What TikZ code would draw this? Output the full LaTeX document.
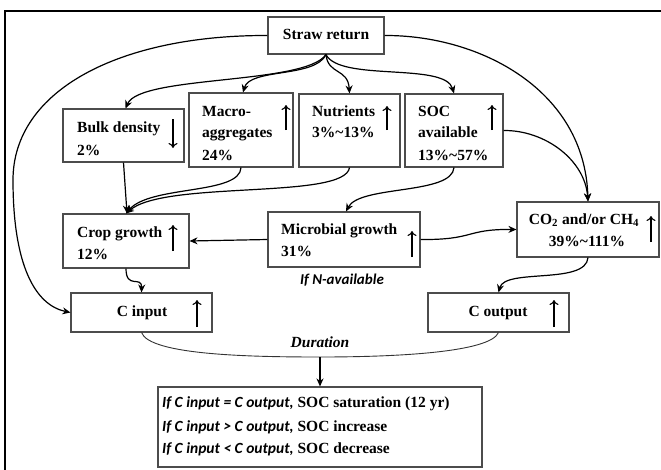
\documentclass[tikz,border=0pt]{standalone}
\usepackage{fontspec}
\setmainfont{Liberation Serif}
\newfontfamily\serfont{Liberation Serif}
\newfontfamily\calfont{Carlito}
\usetikzlibrary{arrows.meta,calc}
\begin{document}
\begin{tikzpicture}[x=1pt,y=-1pt,
  box/.style={draw=black!70, line width=1.1pt, rectangle, inner sep=0pt},
  conn/.style={line width=1.2pt, -{Stealth[length=8pt,width=7pt]}},
  uparr/.style={line width=1.1pt, -{To[length=5pt,width=9pt]}},
  txt/.style={anchor=base west, inner sep=0pt, font=\serfont\bfseries\fontsize{15.5}{18}\selectfont},
  ctxt/.style={anchor=base, inner sep=0pt, font=\serfont\bfseries\fontsize{15.5}{18}\selectfont},
  ital/.style={anchor=base, inner sep=0pt, font=\calfont\bfseries\itshape\fontsize{15}{18}\selectfont},
]
\useasboundingbox (0,0) rectangle (661,469);
\draw[line width=1.5pt] (5,11) rectangle (670,480);

% boxes
\node[box, minimum width=116pt, minimum height=37pt] (sr) at (326,35.5) {};
\node[box, minimum width=121pt, minimum height=53pt] (bd) at (123.5,135.5) {};
\node[box, minimum width=104pt, minimum height=74pt] (ma) at (241,130) {};
\node[box, minimum width=101pt, minimum height=73pt] (nu) at (349.5,130.5) {};
\node[box, minimum width=98pt, minimum height=73pt] (soc) at (454,130.5) {};
\node[box, minimum width=126pt, minimum height=54pt] (cg) at (126,241) {};
\node[box, minimum width=152pt, minimum height=55pt] (mg) at (344,239.5) {};
\node[box, minimum width=142pt, minimum height=55pt] (co) at (588,229.5) {};
\node[box, minimum width=141pt, minimum height=39pt] (ci) at (141.5,312.5) {};
\node[box, minimum width=141pt, minimum height=39pt] (cout) at (498.5,312.5) {};
\node[box, minimum width=324pt, minimum height=80pt] (res) at (320,427) {};

% texts
\node[ctxt] (tsr) at (326,39.5) {Straw return};
\node[txt] (tbd1) at (77,132) {Bulk density};
\node[txt] (tbd2) at (77,155) {2\%};
\node[txt] (tma1) at (202,116) {Macro-};
\node[txt] (tma2) at (202,137) {aggregates};
\node[txt] (tma3) at (202,160) {24\%};
\node[txt] (tnu1) at (312,116) {Nutrients};
\node[txt] (tnu2) at (312,137) {3\%\textasciitilde13\%};
\node[txt] (tsoc1) at (418,116) {SOC};
\node[txt] (tsoc2) at (418,137) {available};
\node[txt] (tsoc3) at (418,160) {13\%\textasciitilde57\%};
\node[txt] (tcg1) at (77,237) {Crop growth};
\node[txt] (tcg2) at (77,259) {12\%};
\node[txt] (tmg1) at (281,234) {Microbial growth};
\node[txt] (tmg2) at (281,256) {31\%};
\node[ctxt] (tco1) at (584,224) {CO\textsubscript{2} and/or CH\textsubscript{4}};
\node[ctxt] (tco2) at (587,246) {39\%\textasciitilde111\%};
\node[ctxt] (tci) at (142,316) {C input};
\node[ctxt] (tcout) at (498,316) {C output};
\node[ital] (tnav) at (342,284) {If N-available};
\node[anchor=base, inner sep=0pt, font=\serfont\bfseries\itshape\fontsize{15.5}{18}\selectfont] (tdur) at (320,347) {Duration};
\node[anchor=base west, inner sep=0pt, font=\fontsize{15.5}{18}\selectfont] (tr1) at (162,407) {{\calfont\bfseries\itshape If C input = C output,} {\serfont\bfseries SOC saturation (12 yr)}};
\node[anchor=base west, inner sep=0pt, font=\fontsize{15.5}{18}\selectfont] (tr2) at (162,431) {{\calfont\bfseries\itshape If C input > C output,} {\serfont\bfseries SOC increase}};
\node[anchor=base west, inner sep=0pt, font=\fontsize{15.5}{18}\selectfont] (tr3) at (162,453) {{\calfont\bfseries\itshape If C input < C output,} {\serfont\bfseries SOC decrease}};

% in-box arrows
\draw[uparr] (173,119) -- (173,148);
\draw[uparr] (286,130) -- (286,105);
\draw[uparr] (387,130) -- (387,106);
\draw[uparr] (492,130) -- (492,105);
\draw[uparr] (173,251) -- (173,225);
\draw[uparr] (412,257) -- (412,231);
\draw[uparr] (651,242) -- (651,216);
\draw[uparr] (197,327) -- (197,300);
\draw[uparr] (554,327) -- (554,300);

% connectors
\draw[conn] (sr.west) .. controls (120,35) and (13,90) .. (13,180) .. controls (13,265) and (35,305) .. (ci.west);
\draw[conn] (sr.east) .. controls (480,35) and (585,90) .. (co.north);
\draw[conn] (soc.east) .. controls (545,130) and (585,160) .. (co.north);
\draw[conn] (sr.south) .. controls (305,85) and (140,75) .. ([xshift=2pt]bd.north);
\draw[conn] (sr.south) .. controls (315,78) and (250,68) .. ([xshift=2pt]ma.north);
\draw[conn] (sr.south) .. controls (328,75) and (348,68) .. (nu.north);
\draw[conn] (sr.south) .. controls (340,82) and (445,62) .. (soc.north);
\draw[conn] (bd.south) -- ([xshift=1pt]cg.north);
\draw[conn] (ma.south) .. controls (240,195) and (150,185) .. (cg.north);
\draw[conn] (nu.south) .. controls (345,200) and (165,180) .. (cg.north);
\draw[conn] (soc.south) .. controls (452,195) and (360,185) .. ([xshift=2pt]mg.north);
\draw[conn] (mg.west) -- (cg.east);
\draw[conn] (mg.east) .. controls (475,240) and (465,229) .. (co.west);
\draw[conn] (cg.south) .. controls (126,290) and (142,275) .. (ci.north);
\draw[conn] (co.south) .. controls (586,285) and (505,268) .. (cout.north);
\coordinate (dm) at (320,357);
\draw[line width=0.9pt, draw=black!80] (ci.south) .. controls (150,355) and (250,357) .. (dm) .. controls (400,357) and (490,352) .. (cout.south);
\draw[conn] (dm) -- (res.north);
\end{tikzpicture}
\end{document}
